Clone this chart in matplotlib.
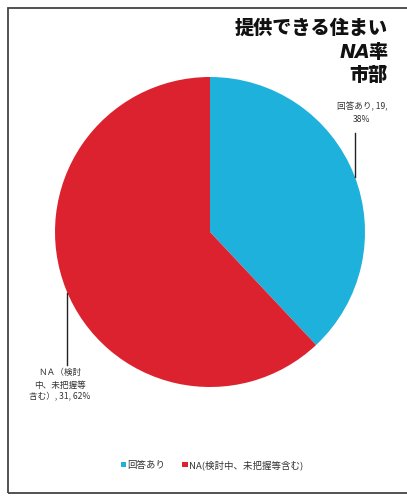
import numpy as np
import matplotlib.pyplot as plt
from matplotlib.patches import Rectangle, Patch

plt.rcParams['font.family'] = ['Noto Sans CJK JP', 'DejaVu Sans']

# 回答状況（市部）
labels = ['回答あり', 'NA(検討中、未把握等含む)']
label_text = ['回答あり', 'ＮＡ（検討\n中、未把握等\n含む）']
counts = [19, 31]
colors = ['#1eb1dc', '#dc222e']

total = sum(counts)
pcts = [round(c / total * 100) for c in counts]

fig = plt.figure(figsize=(4.07, 4.96), dpi=100)
W, H = 407, 496

# 外枠（右側は切れている）
fig.add_artist(Rectangle((8 / W, 1 - 493 / H), 2.0, (493 - 8) / H,
                         transform=fig.transFigure, fill=False,
                         edgecolor='#444444', linewidth=1.3))

# 円グラフ（12時から時計回り）
cx, cy, r = 210, 232, 155
ax = fig.add_axes([(cx - r) / W, 1 - (cy + r) / H, 2 * r / W, 2 * r / H])
wedges, _ = ax.pie(counts, colors=colors, startangle=90, counterclock=False,
                   wedgeprops=dict(linewidth=0))
ax.set_aspect('equal')
ax.set_xlim(-1, 1)
ax.set_ylim(-1, 1)

# データラベル（垂直の引き出し線）
def leader(x, y_end, y_text, text, va, tx):
    y_edge = np.sign(y_end) * np.sqrt(1 - x ** 2)
    ax.plot([x, x], [y_edge, y_end], color='#222222', lw=1.0, clip_on=False)
    ax.text(tx, y_text, text, ha='center', va=va, fontsize=6.2,
            color='#333333', linespacing=1.45, clip_on=False)

leader(0.935, 0.64, 0.70, f'{label_text[0]}, {counts[0]},\n{pcts[0]}%', 'bottom', 0.98)
leader(-0.92, -0.86, -0.88, f'{label_text[1]}, {counts[1]}, {pcts[1]}%', 'top', -0.97)

# タイトル（1行ずつ右揃え）
title_kw = dict(ha='right', va='center', fontsize=13.8, fontweight='heavy',
                color='#111111')
xr = 388 / W
fig.text(xr, 1 - 28 / H, '提供できる住まい', **title_kw)
t_ritsu = fig.text(xr, 1 - 52 / H, '率', **title_kw)
fig.text(xr, 1 - 75 / H, '市部', **title_kw)
fig.canvas.draw()
bb = t_ritsu.get_window_extent()
fig.text(bb.x0 / W + 1 / W, 1 - 52 / H, 'NA', style='italic',
         **{**title_kw, 'family': ['DejaVu Sans']})

# 凡例
handles = [Patch(facecolor=c, label=l) for c, l in zip(colors, labels)]
fig.legend(handles=handles, loc='center', bbox_to_anchor=(212 / W, 1 - 465 / H),
           ncol=2, frameon=False, fontsize=6.8, handlelength=0.55, handleheight=0.55,
           handletextpad=0.15, columnspacing=1.8, labelcolor='#333333')

fig.savefig('out.png', dpi=100)
